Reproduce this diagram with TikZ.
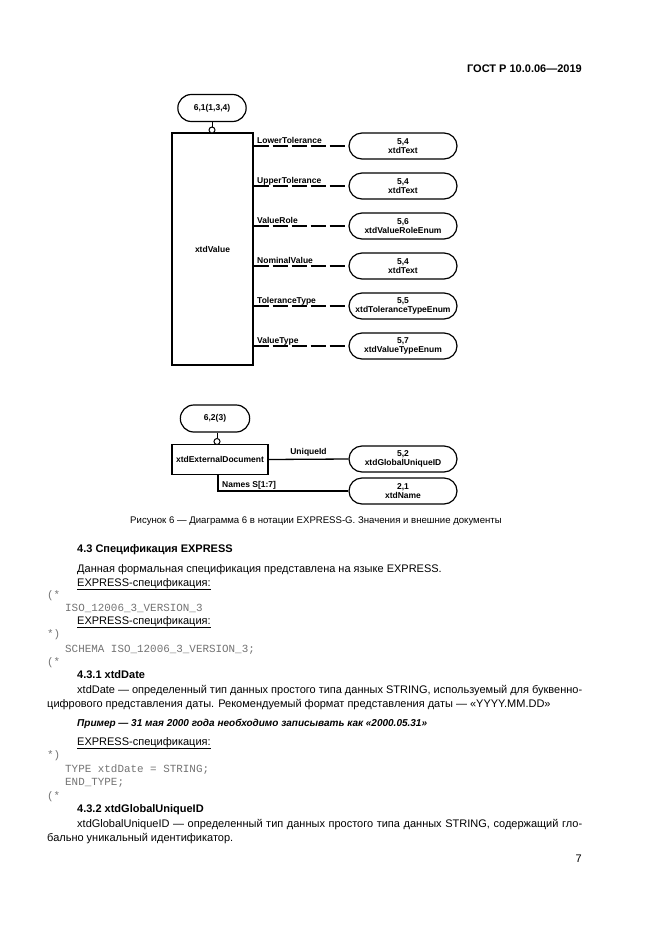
\documentclass[tikz,border=0pt]{standalone}
\usepackage{fontspec}
\setmainfont{Liberation Sans}
\setmonofont{Liberation Mono}
\usepackage{tikz}
\usetikzlibrary{positioning, shapes.misc}

\begin{document}
\begin{tikzpicture}[x=1pt, y=-1pt,
                entity/.style={draw, line width=1.2pt, inner sep=0pt},
                typebox/.style={draw, line width=1.2pt, rounded rectangle, minimum width=110pt, minimum height=26pt, align=center, inner sep=1pt, font=\bfseries\fontsize{8.5}{9.5}\selectfont},
                refbox/.style={draw, line width=1.2pt, rounded rectangle, minimum width=76pt, minimum height=27pt, font=\bfseries\fontsize{8.5}{10}\selectfont},
                ring/.style={draw, line width=1pt, circle, inner sep=0pt, minimum size=6pt, fill=white},
                attr/.style={anchor=base west, inner sep=0pt, font=\bfseries\fontsize{8.5}{10}\selectfont},
                optline/.style={line width=1.3pt, dash pattern=on 15pt off 4pt},
                reqline/.style={line width=1.3pt},
                body/.style={anchor=base west, inner sep=0pt, font=\fontsize{11}{13}\selectfont},
                head/.style={body, font=\bfseries\fontsize{11}{13}\selectfont},
                code/.style={anchor=base west, inner sep=0pt, text=black!55, font=\ttfamily\fontsize{10.9}{12}\selectfont}]

                % page frame
                \useasboundingbox (0,0) rectangle (661,935);

                % running head
                \node[head, anchor=base east] (gost) at (582,72) {ГОСТ Р 10.0.06—2019};

                % Diagram: xtdValue
                \node[refbox, minimum width=75pt] (ref61) at (212,108) {6,1(1,3,4)};
                \node[entity, minimum width=81pt, minimum height=232pt] (val) at (212.5,249) {};
                \node[font=\bfseries\fontsize{8.5}{10}\selectfont] (valname) at (val.center) {xtdValue};
                \node[ring] (ring61) at (212,130) {};
                \draw[line width=1pt] (ref61.south) -- (ring61.north);

                % attribute targets
                \node[typebox] (lt) at (403,146) {5,4\\xtdText};
                \node[typebox] (ut) at (403,186) {5,4\\xtdText};
                \node[typebox] (vr) at (403,226) {5,6\\xtdValueRoleEnum};
                \node[typebox] (nv) at (403,266) {5,4\\xtdText};
                \node[typebox] (tt) at (403,306) {5,5\\xtdToleranceTypeEnum};
                \node[typebox] (vt) at (403,346) {5,7\\xtdValueTypeEnum};

                % optional attributes
                \draw[optline] (lt.west -| val.east) -- (lt.west);
                \draw[optline] (ut.west -| val.east) -- (ut.west);
                \draw[optline] (vr.west -| val.east) -- (vr.west);
                \draw[optline] (nv.west -| val.east) -- (nv.west);
                \draw[optline] (tt.west -| val.east) -- (tt.west);
                \draw[optline] (vt.west -| val.east) -- (vt.west);
                \node[attr] (ltlab) at (257,143) {LowerTolerance};
                \node[attr] (utlab) at (257,183) {UpperTolerance};
                \node[attr] (vrlab) at (257,223) {ValueRole};
                \node[attr] (nvlab) at (257,263) {NominalValue};
                \node[attr] (ttlab) at (257,303) {ToleranceType};
                \node[attr] (vtlab) at (257,343) {ValueType};

                % Diagram: xtdExternalDocument
                \node[refbox] (ref62) at (215,418.5) {6,2(3)};
                \node[entity, minimum width=96pt, minimum height=30pt, font=\bfseries\fontsize{8.5}{10}\selectfont] (extdoc) at (220,459.5) {xtdExternalDocument};
                \node[ring] (ring62) at (217,441.5) {};
                \draw[line width=1pt] (ref62.south -| ring62) -- (ring62.north);
                \node[typebox] (guid) at (403,459) {5,2\\xtdGlobalUniqueID};
                \node[typebox] (nm) at (403,491) {2,1\\xtdName};
                \draw[reqline] (extdoc.east) -- (guid.west)
                    node[attr, anchor=base, pos=0.5, yshift=5pt] (uidlab) {UniqueId};
                \draw[reqline] (extdoc.south -| 218,0) |- (nm.west);
                \node[attr] (nmlab) at (222,487) {Names S[1:7]};

                % caption
                \node[anchor=base, inner sep=0pt, font=\fontsize{9.6}{11}\selectfont] (cap) at (316,523)
                    {Рисунок 6 — Диаграмма 6 в нотации EXPRESS-G. Значения и внешние документы};

                % section 4.3
                \node[head] (s43) at (77,552) {4.3 Спецификация EXPRESS};
                \node[body] (p1) at (77,572) {Данная формальная спецификация представлена на языке EXPRESS.};
                \node[body] (u1) at (77,586) {\underline{EXPRESS-спецификация:}};
                \node[code] (c1) at (47,598) {(*};
                \node[code] (iso) at (65,611) {ISO\_12006\_3\_VERSION\_3};
                \node[body] (u2) at (77,624) {\underline{EXPRESS-спецификация:}};
                \node[code] (c2) at (47,637) {*)};
                \node[code] (schema) at (65,652) {SCHEMA ISO\_12006\_3\_VERSION\_3;};
                \node[code] (c3) at (47,665) {(*};

                % section 4.3.1
                \node[head] (s431) at (77,678) {4.3.1 xtdDate};
                \node[body] (d1) at (77,693) {\makebox[505pt][s]{xtdDate — определенный тип данных простого типа данных STRING, используемый для буквенно-}};
                \node[body] (d2) at (47,707) {цифрового представления даты. Рекомендуемый формат представления даты — «YYYY.MM.DD»};
                \node[body, font=\bfseries\itshape\fontsize{10}{12}\selectfont] (ex) at (77,726) {Пример — 31 мая 2000 года необходимо записывать как «2000.05.31»};
                \node[body] (u3) at (77,745) {\underline{EXPRESS-спецификация:}};
                \node[code] (c4) at (47,758) {*)};
                \node[code] (type) at (65,772) {TYPE xtdDate = STRING;};
                \node[code] (endtype) at (65,785) {END\_TYPE;};
                \node[code] (c5) at (47,799) {(*};

                % section 4.3.2
                \node[head] (s432) at (77,812) {4.3.2 xtdGlobalUniqueID};
                \node[body] (g1) at (77,827) {\makebox[505pt][s]{xtdGlobalUniqueID — определенный тип данных простого типа данных STRING, содержащий гло-}};
                \node[body] (g2) at (47,841) {бально уникальный идентификатор.};

                % page number
                \node[body, anchor=base east] (pagenum) at (582,862) {7};
            \end{tikzpicture}
\end{document}
